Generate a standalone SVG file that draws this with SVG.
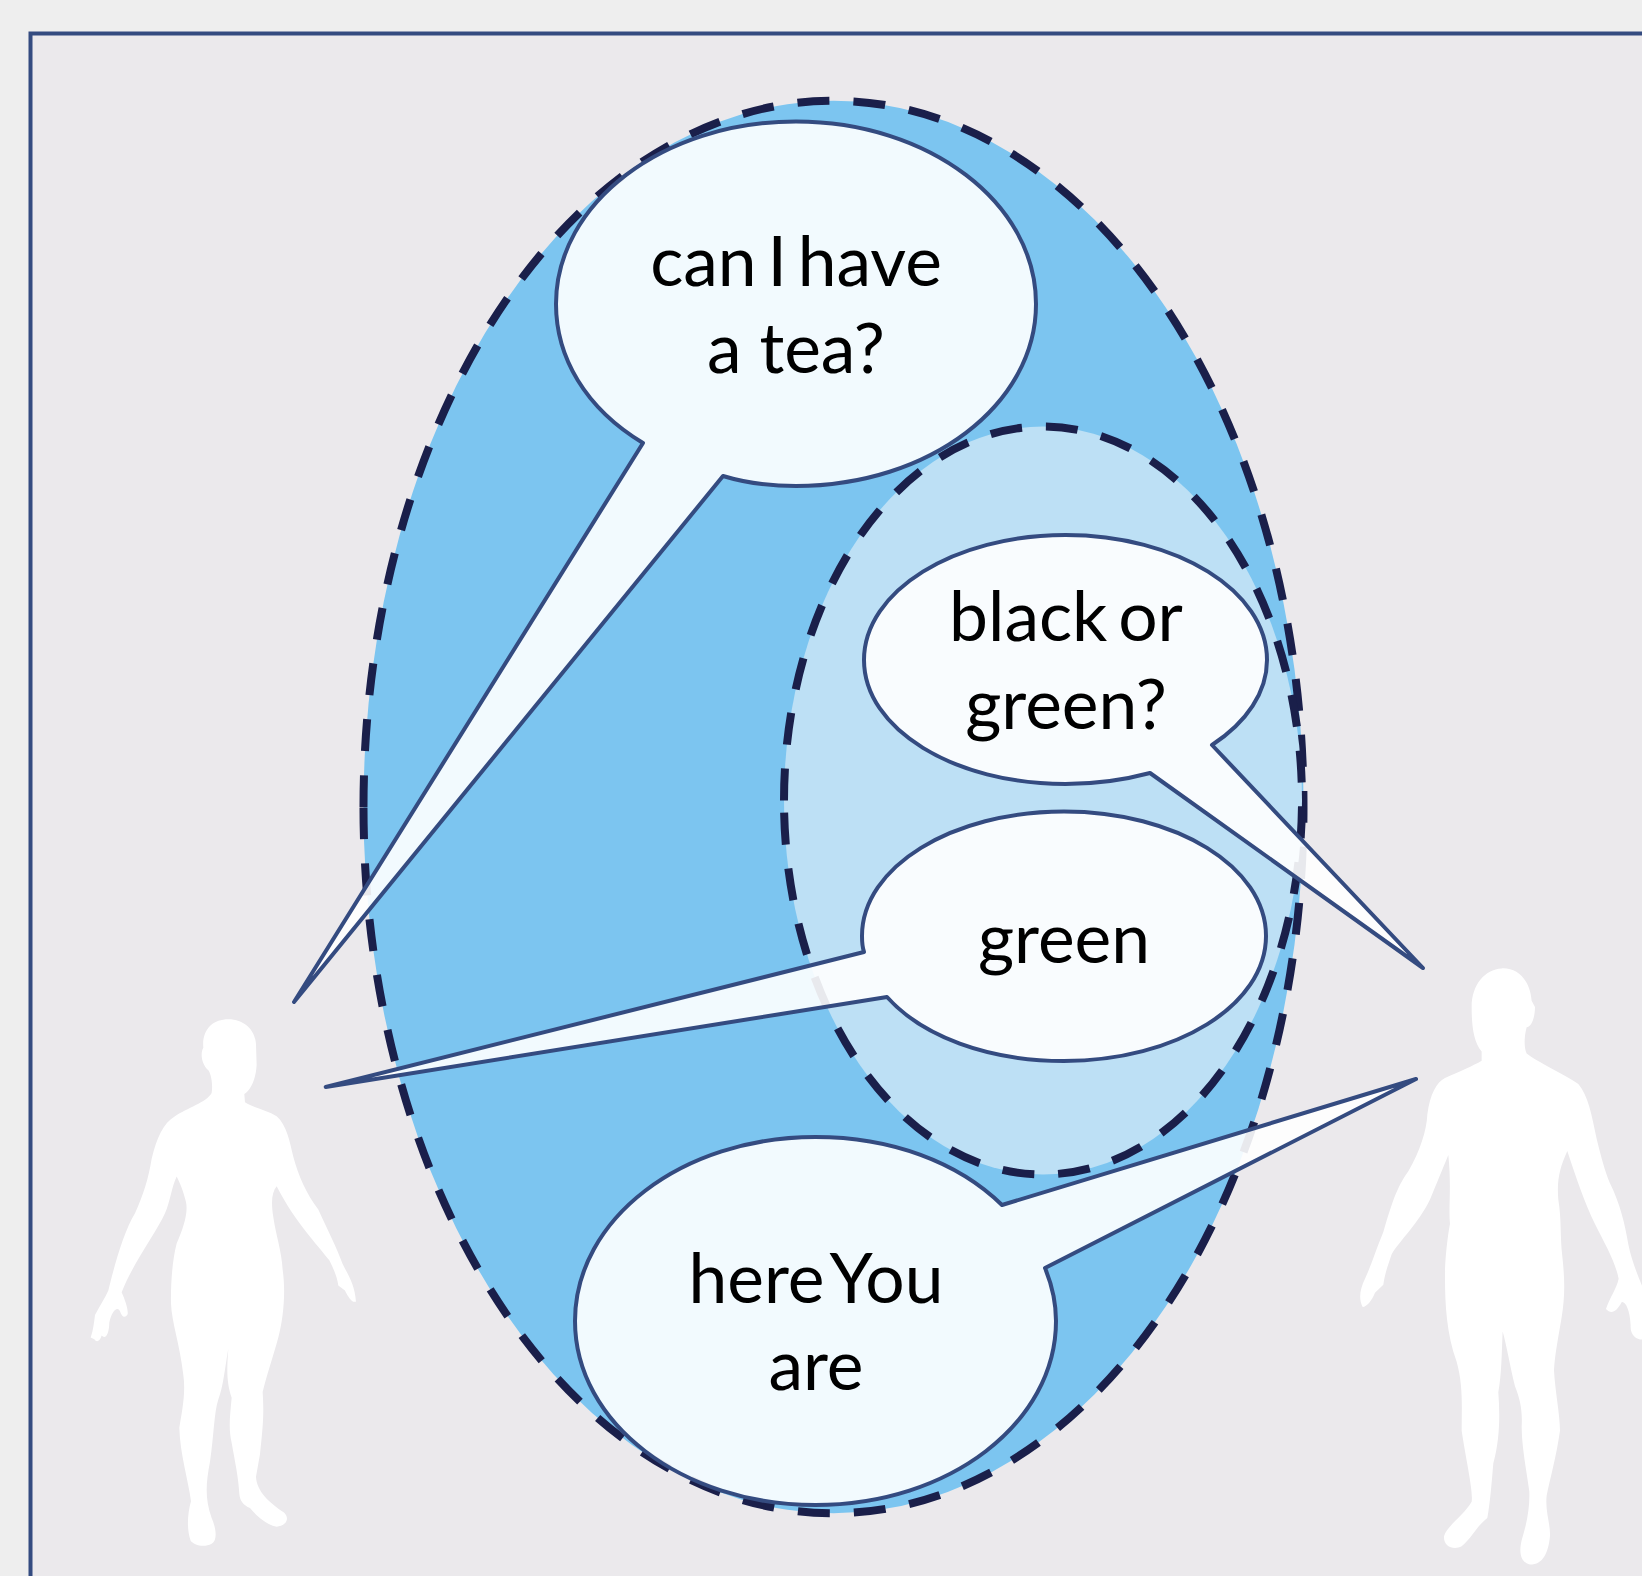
<svg xmlns="http://www.w3.org/2000/svg" width="1642" height="1576" viewBox="0 0 1642 1576">
<style>
.dash{stroke:#1a1f4a;stroke-width:8;stroke-dasharray:32 24}
.bub{fill:#fff;fill-opacity:.9;stroke:#344b80;stroke-width:4;stroke-linejoin:round}
.fig{fill:#fff}
text{font-family:"Lato","Open Sans",sans-serif;font-size:69.5px;fill:#000;text-anchor:middle;word-spacing:-7px}
</style>
<rect width="1642" height="1576" fill="#eeeeee"/>
<path d="M30.500 1576V33.500H1642V1576Z" fill="#ebe9ec"/>
<path d="M30.500 1576V33.500H1642" fill="none" stroke="#344b80" stroke-width="4"/>
<g id="person-left"><path class="fig" transform="matrix(.3333 0 0 .3763 60 980)" d="M505,104 C550,104 585,130 588,170 L590,225 C588,265 570,295 553,303 L555,325 C580,340 620,345 650,362 C680,385 690,430 700,470 C715,520 740,570 775,610 C800,660 830,710 848,755 C865,785 885,810 888,855 L880,855 C870,850 860,835 855,825 L835,812 C832,790 820,765 808,745 C770,700 710,650 650,548 C635,565 633,590 640,630 C648,680 665,720 668,770 C678,830 670,900 655,950 C640,1000 620,1050 608,1095 C612,1150 610,1180 600,1260 L588,1320 C590,1360 630,1390 672,1415 C690,1430 680,1450 650,1453 C620,1448 590,1425 570,1403 C550,1395 540,1385 538,1365 C535,1320 525,1280 515,1230 C505,1190 510,1160 515,1110 C500,1070 500,1040 505,980 C495,1030 490,1080 475,1115 C462,1150 462,1210 450,1280 C437,1340 435,1380 455,1430 C470,1460 472,1490 455,1498 C430,1510 400,1500 392,1490 C380,1460 382,1420 393,1385 C385,1330 360,1260 358,1190 C365,1150 378,1100 370,1050 C360,970 335,910 333,860 C332,800 338,740 350,700 C370,660 385,620 378,590 C370,560 360,540 350,522 C335,550 330,590 315,620 C290,670 220,750 185,830 C195,850 205,875 203,888 C195,900 185,895 180,880 C172,865 155,880 148,910 C147,945 135,955 125,945 C120,960 110,965 103,955 L92,950 C100,930 102,910 105,890 C120,865 135,845 145,825 C160,770 190,670 225,620 C250,570 265,530 275,475 C290,420 310,380 345,362 C380,340 440,325 455,300 C460,270 450,245 445,240 C425,225 420,195 430,180 C425,130 460,104 505,104 Z"/></g>
<g id="person-right"><path class="fig" transform="matrix(.3333 0 0 .4056 1330 940)" d="M515,70 C565,68 600,100 605,150 L615,165 C615,190 605,215 590,215 C582,240 582,265 590,280 C620,300 700,330 745,355 C775,385 785,430 800,490 C815,540 825,570 840,600 C870,650 885,700 895,750 C905,790 920,820 940,860 L936,985 C920,985 900,975 902,950 C900,910 885,890 875,893 C860,915 845,925 828,910 C840,880 860,860 866,835 C855,790 825,750 795,700 C765,650 740,590 712,520 C690,560 680,590 685,640 C695,690 690,730 697,780 C705,840 705,880 695,930 C685,980 675,1020 672,1060 C675,1110 690,1170 690,1210 C680,1270 660,1330 650,1370 C645,1410 662,1440 660,1470 C655,1510 640,1540 600,1540 C575,1535 565,1515 575,1480 C590,1440 600,1400 598,1360 C590,1310 575,1250 575,1200 C578,1160 570,1130 555,1100 C540,1050 530,1000 518,965 C515,1020 515,1070 505,1115 C510,1170 510,1230 490,1290 C485,1340 480,1390 472,1425 C440,1445 430,1470 395,1495 C370,1505 340,1495 342,1470 C350,1445 400,1420 425,1385 C430,1360 410,1290 395,1210 C395,1150 400,1100 380,1040 C350,970 345,900 345,830 C345,780 355,720 360,700 C355,660 365,610 355,530 C335,570 320,600 300,640 C265,700 210,740 185,775 C175,800 165,820 160,850 L135,870 C125,890 110,905 98,905 C85,885 90,860 105,835 C125,800 135,770 160,720 C185,650 200,610 235,570 C270,520 290,470 292,430 C300,380 320,350 345,340 C390,325 430,310 455,298 L455,275 C430,250 425,210 425,165 C425,110 465,72 515,70 Z"/></g>
<g id="outer-scope"><path class="dash" style="stroke-dasharray:32 24.060" d="M363.500 807A470 706 0 1 1 1303.500 807A470 706 0 1 1 363.500 807Z" fill="#7cc5f0"/></g>
<g id="inner-scope"><path class="dash" d="M784 800.500A259 374 0 1 1 1302 800.500A259 374 0 1 1 784 800.500Z" fill="#bde0f5"/></g>
<g id="bubble-tea"><path class="bub" d="M643 443C585 408 556 357 556 304C556 203 663 121.500 796 121.500S1036 203 1036 304S929 486 796 486C771 486 746 483 723 476L294 1002Z"/><text x="796" y="286">can I have</text><text x="796" y="373" style="word-spacing:0">a tea?</text></g>
<g id="bubble-black"><path class="bub" d="M1212 745C1247 722 1267 692 1267 660C1267 591 1177 535 1065.500 535S864 591 864 660S954 784 1065.500 784C1095 784 1124 780 1150 773L1423 968Z"/><text x="1066" y="641">black or</text><text x="1066" y="729">green?</text></g>
<g id="bubble-green"><path class="bub" d="M864 952C862 946 862 941 862 936C862 867 952 811.500 1064 811.500S1266 867 1266 936S1176 1061 1064 1061C987 1061 922 1036 887 997L325.700 1087Z"/><text x="1064" y="963">green</text></g>
<g id="bubble-here"><path class="bub" d="M1002 1205C958 1162 891 1137 815.500 1137C682 1137 575 1219 575 1321S682 1505 815.500 1505S1056 1423 1056 1321C1056 1302 1052 1285 1045 1268L1416 1079Z"/><text x="816" y="1303" style="word-spacing:-10px">here You</text><text x="816" y="1390">are</text></g>
</svg>
